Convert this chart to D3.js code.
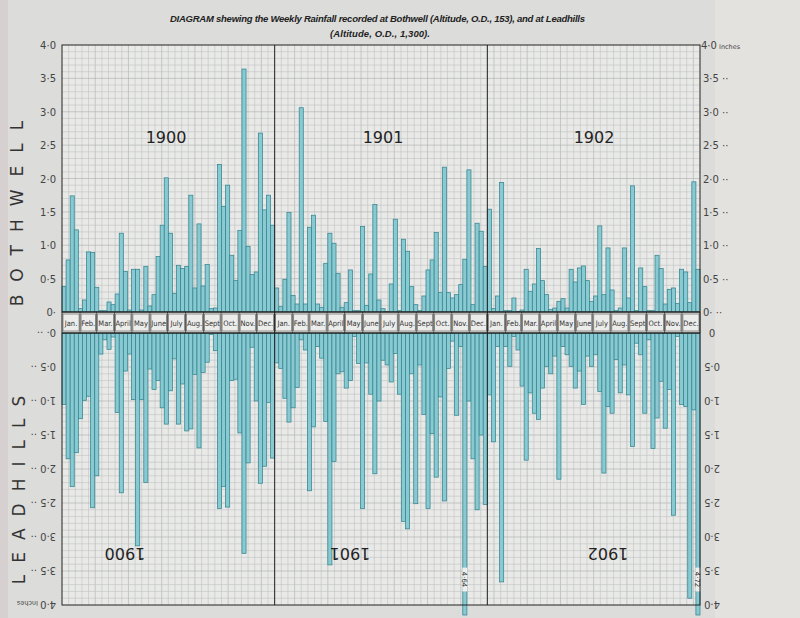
<!DOCTYPE html>
<html><head><meta charset="utf-8">
<script src="https://cdn.jsdelivr.net/npm/d3@7/dist/d3.min.js"></script>
<style>body{margin:0;background:#dcdcda;} svg{display:block}</style>
</head><body><svg id="c" width="800" height="618"></svg>
<script>
// ---------------- data ----------------
const years = ["1900", "1901", "1902"];
const months = ["Jan.", "Feb.", "Mar.", "April", "May", "June", "July", "Aug.", "Sept", "Oct.", "Nov.", "Dec."];
const monthDays = [31, 28, 31, 30, 31, 30, 31, 31, 30, 31, 30, 31];
const tickValues = [0, 0.5, 1, 1.5, 2, 2.5, 3, 3.5, 4];
const tickLabels = ["0·", "0·5", "1·0", "1·5", "2·0", "2·5", "3·0", "3·5", "4·0"];
const unitLabel = "Inches";
const bothwell1900 = [0.38,0.78,1.74,1.23,0.05,0.18,0.90,0.89,0.37,0.02,0.02,0.15,0.11,0.27,1.18,0.61,0.03,0.64,0.64,0.03,0.68,0.09,0.26,0.83,1.30,2.01,1.18,0.28,0.70,0.65,0.68,1.75,0.36,1.32,0.39,0.71,0.05,0.06,2.21,1.58,1.90,0.85,0.47,1.22,3.64,0.98,0.56,0.60,2.68,1.53,1.75,1.30];
const bothwell1901 = [0.36,0.08,0.49,1.49,0.25,0.12,3.06,0.12,1.27,1.45,0.12,0.07,0.73,1.18,1.03,0.58,0.07,0.14,0.63,0.02,0.02,1.28,0.10,0.57,1.61,0.18,0.05,0.01,0.42,1.39,0.02,1.09,0.91,0.38,0.11,0.02,0.24,0.63,0.78,1.19,0.29,2.17,0.29,0.21,0.26,0.41,0.79,2.13,0.11,1.33,1.21,0.68];
const bothwell1902 = [1.54,0.05,0.24,1.94,0.02,0.02,0.21,0.01,0.03,0.64,0.31,0.42,0.95,0.47,0.26,0.04,0.06,0.16,0.20,0.06,0.64,0.45,0.66,0.69,0.47,0.16,0.24,1.29,0.26,0.96,0.33,0.02,0.06,0.96,0.21,1.89,0.02,0.66,0.38,0.02,0.02,0.85,0.65,0.12,0.34,0.36,0.13,0.64,0.60,0.14,1.95,0.64];
const leadhills1900 = [1.05,1.85,2.26,1.76,1.26,0.99,0.93,2.57,2.10,0.31,0.10,0.24,0.06,1.17,2.35,0.56,0.31,0.98,3.13,0.98,2.20,0.53,0.83,0.70,1.10,1.34,0.85,0.38,1.34,0.75,1.44,1.41,0.61,1.69,0.58,0.43,0.02,0.26,2.58,2.26,2.56,0.70,0.68,1.47,3.24,1.91,0.21,1.00,2.21,1.96,1.02,1.84];
const leadhills1901 = [0.44,0.52,0.96,1.31,1.10,0.80,0.10,0.25,2.32,1.38,0.20,0.37,1.30,3.41,1.89,0.60,0.57,0.81,0.70,0.05,0.45,2.58,0.44,0.90,2.07,1.00,0.40,0.47,0.72,0.30,0.90,2.77,2.88,0.60,2.51,0.47,1.20,2.58,1.48,2.12,0.94,2.47,0.52,0.12,1.21,0.20,4.64,1.00,1.85,2.60,1.50,2.52];
const leadhills1902 = [0.91,1.60,0.20,3.66,0.20,0.49,0.05,0.25,0.78,1.87,0.88,1.18,1.27,0.81,0.49,0.60,0.34,2.15,0.20,0.32,0.49,0.81,0.56,1.05,0.34,0.49,0.32,0.86,2.06,1.08,1.18,0.39,0.88,0.47,0.91,1.67,0.15,0.32,1.18,0.10,1.70,1.25,0.71,1.40,0.83,2.68,0.05,1.05,1.08,3.90,1.13,4.72];

// ---------------- layout ----------------
const svg = d3.select("#c");
const X0 = 62, X1 = 700;
const T0 = 45, B0 = 312, B1 = 333, BOT = 605;
const nWeeks = 52 * years.length;
const bothwell = [].concat(bothwell1900, bothwell1901, bothwell1902);
const leadhills = [].concat(leadhills1900, leadhills1901, leadhills1902);
const x = d3.scaleBand().domain(d3.range(nWeeks)).range([X0, X1]).padding(0);
const yT = d3.scaleLinear().domain([0, 4]).range([B0, T0]);
const yB = d3.scaleLinear().domain([0, 4]).range([B1, BOT]);
const bw = x.bandwidth();
const fmt = v => d3.format(".2f")(v).replace(".", "·");

// page
svg.append("rect").attr("width", 800).attr("height", 618).attr("fill", "#dcdcda");
svg.append("rect").attr("x", 715).attr("width", 85).attr("height", 618).attr("fill", "#e4e2df");
svg.append("rect").attr("x", 0).attr("width", 8).attr("height", 618).attr("fill", "#d6d0d0");

// paper
svg.append("rect").attr("x", X0).attr("y", T0).attr("width", X1 - X0).attr("height", BOT - T0).attr("fill", "#e9e9e7");

// grid
const grid = svg.append("g");
const gx = (X1 - X0) / 96;
for (let i = 1; i < 96; i++) {
  grid.append("line").attr("x1", X0 + i * gx).attr("x2", X0 + i * gx).attr("y1", T0).attr("y2", BOT)
    .attr("stroke", i % 5 === 0 ? "#a9afaf" : "#bfc3c3").attr("stroke-width", 0.6);
}
d3.range(1, 40).forEach(k => {
  const v = k / 10;
  [yT(v), yB(v)].forEach(yy => grid.append("line").attr("x1", X0).attr("x2", X1).attr("y1", yy).attr("y2", yy)
    .attr("stroke", k % 5 === 0 ? "#a9afaf" : "#bfc3c3").attr("stroke-width", 0.6));
});

// bars
const barFill = "#88c9d2", barStroke = "#35858f";
svg.append("g").selectAll("rect").data(bothwell).join("rect")
  .attr("x", (d, i) => x(i)).attr("width", bw)
  .attr("y", d => yT(d)).attr("height", d => B0 - yT(d))
  .attr("fill", barFill).attr("stroke", barStroke).attr("stroke-width", 0.75);

const lg = svg.append("g");
lg.selectAll("rect").data(leadhills).join("rect")
  .attr("x", (d, i) => x(i)).attr("width", bw)
  .attr("y", B1).attr("height", d => (d > 4 ? BOT + 10 : yB(d)) - B1)
  .attr("fill", barFill).attr("stroke", barStroke).attr("stroke-width", 0.75);

// broken bars (beyond 4 inches) with value labels
leadhills.forEach((d, i) => {
  if (d <= 4) return;
  const ya = yB(3.45), yb = yB(3.8);
  lg.append("rect").attr("x", x(i) - 0.5).attr("width", bw + 1).attr("y", ya).attr("height", yb - ya).attr("fill", "#efefed");
  lg.append("text").attr("transform", `translate(${x(i) + bw / 2 - 3},${(ya + yb) / 2}) rotate(90)`)
    .attr("text-anchor", "middle").attr("font-family", "DejaVu Sans").attr("font-size", 7).attr("fill", "#333").text(fmt(d));
});

// month band
const band = svg.append("g");
band.append("rect").attr("x", X0).attr("y", B0).attr("width", X1 - X0).attr("height", B1 - B0).attr("fill", "#e4e4e2");
const cum = d3.cumsum(monthDays);
years.forEach((yr, yi) => {
  const ys = X0 + (X1 - X0) * yi / years.length;
  const yw = (X1 - X0) / years.length;
  months.forEach((m, mi) => {
    const a = ys + yw * (mi === 0 ? 0 : cum[mi - 1]) / 365;
    const b = ys + yw * cum[mi] / 365;
    band.append("rect").attr("x", a + 1).attr("y", B0 + 2).attr("width", b - a - 2).attr("height", B1 - B0 - 4)
      .attr("fill", "#ececea").attr("stroke", "#555").attr("stroke-width", 0.6);
    band.append("line").attr("x1", b).attr("x2", b).attr("y1", B0).attr("y2", B1).attr("stroke", "#333").attr("stroke-width", 0.8);
    band.append("text").attr("x", (a + b) / 2).attr("y", (B0 + B1) / 2 + 3)
      .attr("text-anchor", "middle").attr("font-family", "DejaVu Sans Condensed, DejaVu Sans").attr("font-size", 7.5)
      .attr("fill", "#333").text(m);
  });
});
band.append("line").attr("x1", X0).attr("x2", X1).attr("y1", B0).attr("y2", B0).attr("stroke", "#222").attr("stroke-width", 1.3);
band.append("line").attr("x1", X0).attr("x2", X1).attr("y1", B1).attr("y2", B1).attr("stroke", "#222").attr("stroke-width", 1.3);

// frame and year dividers
svg.append("rect").attr("x", X0).attr("y", T0).attr("width", X1 - X0).attr("height", BOT - T0)
  .attr("fill", "none").attr("stroke", "#222").attr("stroke-width", 1);
[1, 2].forEach(k => {
  const xx = x(52 * k);
  svg.append("line").attr("x1", xx).attr("x2", xx).attr("y1", T0).attr("y2", BOT).attr("stroke", "#222").attr("stroke-width", 1);
});

// year labels
const topYearX = [166, 383, 594];
const botYearX = [125, 350, 608];
years.forEach((yr, yi) => {
  svg.append("text").attr("x", topYearX[yi]).attr("y", 143).attr("text-anchor", "middle")
    .attr("font-family", "DejaVu Sans").attr("font-size", 16).attr("fill", "#222").text(yr);
  svg.append("text").attr("transform", `translate(${botYearX[yi]},${548}) rotate(180)`).attr("text-anchor", "middle")
    .attr("font-family", "DejaVu Sans").attr("font-size", 16).attr("fill", "#222").text(yr);
});

// axes labels
const ax = svg.append("g").attr("font-family", "DejaVu Sans").attr("fill", "#444");
const last = tickValues.length - 1;
tickValues.forEach((v, i) => {
  ax.append("text").attr("x", 56).attr("y", yT(v) + 4).attr("text-anchor", "end").attr("font-size", 10).text(tickLabels[i]);
  if (i < last) {
    ax.append("text").attr("x", 703).attr("y", yT(v) + 4).attr("font-size", 10).text(tickLabels[i] + " ··");
    ax.append("text").attr("transform", `translate(56,${yB(v) - 4}) rotate(180)`).attr("font-size", 10).text(tickLabels[i] + " ··");
  } else {
    const t = ax.append("text").attr("x", 701).attr("y", yT(v) + 4).attr("font-size", 10).text(tickLabels[i]);
    t.append("tspan").attr("font-size", 6.5).text(" " + unitLabel);
    const b = ax.append("text").attr("transform", `translate(56,${yB(v) - 4}) rotate(180)`).attr("font-size", 10).text(tickLabels[i]);
    b.append("tspan").attr("font-size", 6.5).text(" " + unitLabel);
  }
  ax.append("text").attr("transform", `translate(712,${yB(v) - 4}) rotate(180)`).attr("text-anchor", "middle").attr("font-size", 10)
    .text(i === 0 ? "0" : tickLabels[i]);
});

// station names
svg.append("text").attr("transform", "translate(23,207) rotate(-90)").attr("text-anchor", "middle")
  .attr("font-family", "DejaVu Sans").attr("font-size", 17).attr("letter-spacing", 13).attr("fill", "#333").text("BOTHWELL");
svg.append("text").attr("transform", "translate(25,484) rotate(-90)").attr("text-anchor", "middle")
  .attr("font-family", "DejaVu Sans").attr("font-size", 17).attr("letter-spacing", 12).attr("fill", "#333").text("LEADHILLS");

// title
svg.append("text").attr("x", 170).attr("y", 22).attr("textLength", 415).attr("lengthAdjust", "spacing")
  .attr("font-family", "Liberation Sans").attr("font-weight", "bold").attr("font-style", "italic").attr("font-size", 9.5).attr("fill", "#222")
  .text("DIAGRAM shewing the Weekly Rainfall recorded at Bothwell (Altitude, O.D., 153), and at Leadhills");
svg.append("text").attr("x", 330).attr("y", 37).attr("textLength", 100).attr("lengthAdjust", "spacing")
  .attr("font-family", "Liberation Sans").attr("font-weight", "bold").attr("font-style", "italic").attr("font-size", 9.5).attr("fill", "#222")
  .text("(Altitude, O.D., 1,300).");
</script></body></html>
